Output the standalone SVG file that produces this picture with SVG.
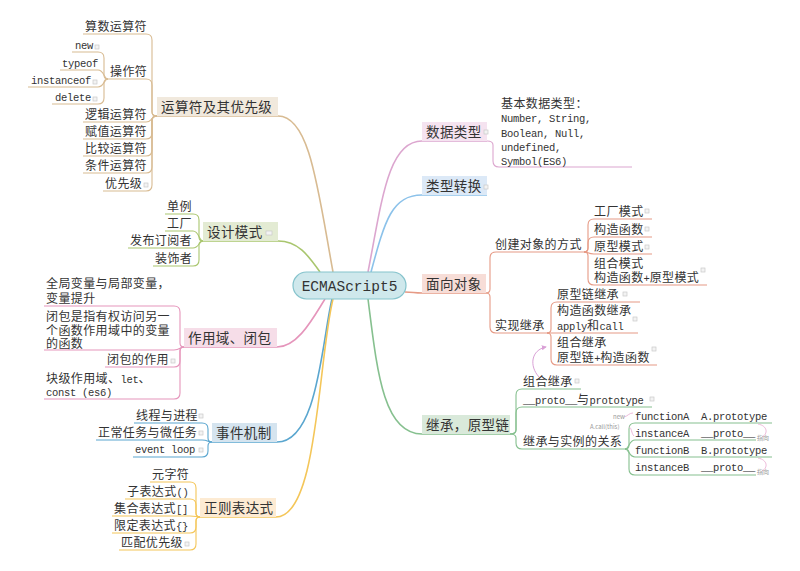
<svg xmlns="http://www.w3.org/2000/svg" width="800" height="571" viewBox="0 0 800 571">
<defs>
<style>
.t{font-family:"Noto Sans CJK SC","Liberation Mono",sans-serif;font-size:12px;letter-spacing:.4px;fill:#333}
.b{font-size:13.5px}
.m{font-family:"Liberation Mono","DejaVu Sans Mono",monospace;font-size:10.5px;letter-spacing:-.3px}
.tiny{font-family:"Noto Sans CJK SC","Liberation Serif",serif;font-size:6px;fill:#999}
.ln{fill:none;stroke-width:1.1}
.mn{fill:none;stroke-width:1.6}
.ic{fill:#f3f3f3;stroke:#c9c9c9;stroke-width:.7}
.c1{stroke:#d8bb92}.c2{stroke:#a9c66e}.c3{stroke:#e595bb}.c4{stroke:#5aa6cf}.c5{stroke:#f4c659}
.c6{stroke:#dca6cf}.c7{stroke:#8cc2ea}.c8{stroke:#e69a85}.c9{stroke:#86c08f}
</style>
<marker id="ah" viewBox="0 0 6 6" refX="5" refY="3" markerWidth="5" markerHeight="5" orient="auto">
<path d="M0,0 L6,3 L0,6 z" fill="#d9a0d6"/>
</marker>
</defs>
<rect width="800" height="571" fill="#fff"/>

<g id="connectors">
<path class="mn c1" d="M333,272 C318,190 310,116 278,116 H157"/>
<path class="mn c2" d="M320,272 C308,255 298,241 278,241 H203"/>
<path class="mn c3" d="M325,299 C313,318 298,347 277,347 H184"/>
<path class="mn c4" d="M332,299 C322,340 318,442 277,442 H212"/>
<path class="mn c5" d="M333,299 C318,360 318,517 276,517 H200"/>
<path class="mn c6" d="M368,272 C382,200 388,141 422,141 H487"/>
<path class="mn c7" d="M371,272 C385,220 392,195 422,195 H487"/>
<path class="mn c8" d="M405,292 C413,292 414,293 422,293 H486"/>
<path class="mn c9" d="M368,299 C377,370 383,434 422,434 H510"/>
<g class="ln c1">
<path d="M157,116 Q152,116 152,112 V40 Q152,34 146,34 H83"/>
<path d="M157,116 Q152,116 152,112 V85 Q152,79 146,79 H108"/>
<path d="M157,116 C152,116 152,122 146,122 H83"/>
<path d="M157,116 Q152,116 152,120 V133 Q152,139 146,139 H83"/>
<path d="M157,116 Q152,116 152,120 V150 Q152,156 146,156 H83"/>
<path d="M157,116 Q152,116 152,120 V167 Q152,173 146,173 H83"/>
<path d="M157,116 Q152,116 152,120 V185 Q152,191 146,191 H103"/>
<path d="M108,79 Q104,79 104,75 V58 Q104,52 98,52 H72"/>
<path d="M108,79 C104,79 104,70 98,70 H60"/>
<path d="M108,79 C104,79 104,87 98,87 H28"/>
<path d="M108,79 Q104,79 104,83 V98 Q104,104 98,104 H52"/>
</g>
<g class="ln c2">
<path d="M203,241 Q199,241 199,237 V220 Q199,214 193,214 H165"/>
<path d="M203,241 C199,241 199,231 193,231 H165"/>
<path d="M203,241 C199,241 199,248 193,248 H128"/>
<path d="M203,241 Q199,241 199,245 V260 Q199,266 193,266 H153"/>
</g>
<g class="ln c3">
<path d="M184,347 Q180,347 180,343 V312 Q180,306 174,306 H44"/>
<path d="M184,347 C180,347 180,350 174,350 H44"/>
<path d="M184,347 Q180,347 180,351 V361 Q180,367 174,367 H105"/>
<path d="M184,347 Q180,347 180,351 V393 Q180,399 174,399 H44"/>
</g>
<g class="ln c4">
<path d="M212,442 Q208,442 208,438 V429 Q208,423 202,423 H134"/>
<path d="M212,442 C208,442 208,440 202,440 H96"/>
<path d="M212,442 Q208,442 208,446 V451 Q208,457 202,457 H133"/>
</g>
<g class="ln c5">
<path d="M200,517 Q196,517 196,513 V488 Q196,482 190,482 H150"/>
<path d="M200,517 Q196,517 196,513 V505 Q196,499 190,499 H125"/>
<path d="M200,517 C196,517 196,516 190,516 H112"/>
<path d="M200,517 Q196,517 196,521 V527 Q196,533 190,533 H112"/>
<path d="M200,517 Q196,517 196,521 V544 Q196,550 190,550 H119"/>
</g>
<path class="ln c6" d="M487,141 Q493,141 493,145 V161 Q493,167 499,167 H632"/>
<g class="ln c8">
<path d="M486,293 Q490,293 490,289 V258 Q490,252 496,252 H586"/>
<path d="M486,293 Q490,293 490,297 V327 Q490,333 496,333 H549"/>
<path d="M584,252 Q588,252 588,248 V225 Q588,219 594,219 H652"/>
<path d="M584,252 Q588,252 588,248 V243 Q588,237 594,237 H652"/>
<path d="M584,252 C588,252 588,254 594,254 H652"/>
<path d="M584,252 Q588,252 588,256 V279 Q588,285 594,285 H707"/>
<path d="M547,333 Q551,333 551,329 V308 Q551,302 557,302 H640"/>
<path d="M547,333 H638"/>
<path d="M547,333 Q551,333 551,337 V359 Q551,365 557,365 H657"/>
</g>
<g class="ln c9">
<path d="M510,434 Q516,434 516,430 V395 Q516,389 522,389 H581"/>
<path d="M510,434 Q516,434 516,430 V413 Q516,407 522,407 H652"/>
<path d="M510,434 Q516,434 516,438 V443 Q516,449 522,449 H627"/>
<path d="M625,449 Q629,449 629,445 V429 Q629,423 635,423 H772"/>
<path d="M625,449 C629,449 629,440 635,440 H756"/>
<path d="M625,449 C629,449 629,457 635,457 H772"/>
<path d="M625,449 Q629,449 629,453 V469 Q629,475 635,475 H756"/>
</g>
<path d="M539,377 C529,366 531,350 546,347" fill="none" stroke="#d9a0d6" stroke-width="1" marker-end="url(#ah)"/>
<g fill="none" stroke="#e8a8d0" stroke-width=".8">
<path d="M624,417 C628,416 629,413 633,413"/>
<path d="M629,427 C632,428 631,433 634,436"/>
<path d="M758,424 C768,426 768,434 762,437"/>
<path d="M758,458 C768,460 768,468 762,471"/>
</g>
</g>

<g id="center">
<rect x="293" y="272" width="113" height="27" rx="13.5" fill="#cfe8ec" stroke="#85c3cc" stroke-width="1.2"/>
<text x="349.5" y="291" text-anchor="middle" font-family="Liberation Mono, DejaVu Sans Mono, monospace" font-size="14.5" fill="#333">ECMAScript5</text>
</g>

<g id="n-operators">
<rect x="157" y="97" width="121" height="19" fill="#f1e9dd"/>
<text class="t b" x="161" y="111.5">运算符及其优先级</text>
<text class="t" x="85" y="31">算数运算符</text>
<text class="t" x="110" y="76">操作符</text>
<text class="t m" x="75" y="49">new</text>
<text class="t m" x="62" y="67">typeof</text>
<text class="t m" x="31" y="84">instanceof</text>
<text class="t m" x="55" y="101">delete</text>
<text class="t" x="85" y="119">逻辑运算符</text>
<text class="t" x="85" y="136">赋值运算符</text>
<text class="t" x="85" y="153">比较运算符</text>
<text class="t" x="85" y="170">条件运算符</text>
<text class="t" x="105" y="188">优先级</text>
</g>

<g id="n-design">
<rect x="203" y="222" width="75" height="19" fill="#e3ebd3"/>
<text class="t b" x="207" y="236.5">设计模式</text>
<text class="t" x="167" y="211">单例</text>
<text class="t" x="167" y="228">工厂</text>
<text class="t" x="130" y="245">发布订阅者</text>
<text class="t" x="155" y="263">装饰者</text>
</g>

<g id="n-scope">
<rect x="184" y="328" width="93" height="19" fill="#f6dde8"/>
<text class="t b" x="188" y="342.5">作用域、闭包</text>
<text class="t" x="46" y="288">全局变量与局部变量，<tspan x="46" y="303">变量提升</tspan></text>
<text class="t" x="46" y="321">闭包是指有权访问另一<tspan x="46" y="335">个函数作用域中的变量</tspan><tspan x="46" y="348">的函数</tspan></text>
<text class="t" x="107" y="364">闭包的作用</text>
<text class="t" x="46" y="383">块级作用域、<tspan class="m">let</tspan>、<tspan class="m" x="46" y="396">const (es6)</tspan></text>
</g>

<g id="n-event">
<rect x="212" y="423" width="65" height="19" fill="#d5e4ef"/>
<text class="t b" x="216" y="437.5">事件机制</text>
<text class="t" x="136" y="420">线程与进程</text>
<text class="t" x="98" y="437">正常任务与微任务</text>
<text class="t m" x="135" y="453">event loop</text>
</g>

<g id="n-regex">
<rect x="200" y="498" width="76" height="19" fill="#fdebd3"/>
<text class="t b" x="204" y="512.5">正则表达式</text>
<text class="t" x="152" y="479">元字符</text>
<text class="t" x="127" y="496">子表达式<tspan class="m">()</tspan></text>
<text class="t" x="114" y="513">集合表达式<tspan class="m">[]</tspan></text>
<text class="t" x="114" y="530">限定表达式<tspan class="m">{}</tspan></text>
<text class="t" x="121" y="547">匹配优先级</text>
</g>

<g id="n-datatype">
<rect x="422" y="122" width="65" height="19" fill="#f5e3f0"/>
<text class="t b" x="426" y="136.5">数据类型</text>
<text class="t" x="501" y="108">基本数据类型：<tspan class="m" x="501" y="122">Number, String,</tspan><tspan class="m" x="501" y="136.5">Boolean, Null,</tspan><tspan class="m" x="501" y="151">undefined,</tspan><tspan class="m" x="501" y="165">Symbol(ES6)</tspan></text>
</g>

<g id="n-convert">
<rect x="422" y="176" width="65" height="19" fill="#dce9f7"/>
<text class="t b" x="426" y="190.5">类型转换</text>
</g>

<g id="n-oop">
<rect x="422" y="274" width="64" height="19" fill="#f7ddd7"/>
<text class="t b" x="426" y="288.5">面向对象</text>
<text class="t" x="495" y="249">创建对象的方式</text>
<text class="t" x="594" y="216">工厂模式</text>
<text class="t" x="594" y="234">构造函数</text>
<text class="t" x="594" y="251">原型模式</text>
<text class="t" x="594" y="268">组合模式<tspan x="594" y="282">构造函数</tspan><tspan class="m">+</tspan>原型模式</text>
<text class="t" x="495" y="330">实现继承</text>
<text class="t" x="557" y="299">原型链继承</text>
<text class="t" x="557" y="315">构造函数继承<tspan class="m" x="557" y="330">apply</tspan>和<tspan class="m">call</tspan></text>
<text class="t" x="557" y="347">组合继承<tspan x="557" y="362">原型链</tspan><tspan class="m">+</tspan>构造函数</text>
</g>

<g id="n-inherit">
<rect x="422" y="415" width="88" height="19" fill="#d9e9da"/>
<text class="t b" x="426" y="429.5">继承，原型链</text>
<text class="t" x="523" y="386">组合继承</text>
<text class="t" x="523" y="404"><tspan class="m">__proto__</tspan>与<tspan class="m">prototype</tspan></text>
<text class="t" x="523" y="446">继承与实例的关系</text>
<text class="t m" x="635" y="420">functionA<tspan x="701">A.prototype</tspan></text>
<text class="t m" x="635" y="437">instanceA<tspan x="701">__proto__</tspan></text>
<text class="t m" x="635" y="454">functionB<tspan x="701">B.prototype</tspan></text>
<text class="t m" x="635" y="471">instanceB<tspan x="701">__proto__</tspan></text>
<text class="tiny" x="613" y="419">new</text>
<text class="tiny" x="590" y="429">A.call(this)</text>
<text class="tiny" x="757" y="440">指向</text>
<text class="tiny" x="757" y="474">指向</text>
</g>

<g id="icons">
<rect class="ic" x="95" y="45" width="4" height="4"/>
<rect class="ic" x="93" y="80" width="4" height="4"/>
<rect class="ic" x="93" y="97" width="4" height="4"/>
<rect class="ic" x="144" y="183" width="4" height="4"/>
<rect class="ic" x="266" y="231" width="6" height="4"/>
<rect class="ic" x="171" y="359" width="4" height="4"/>
<rect class="ic" x="199" y="414" width="4" height="4"/>
<rect class="ic" x="199" y="431" width="4" height="4"/>
<rect class="ic" x="199" y="448" width="4" height="4"/>
<rect class="ic" x="185" y="542" width="4" height="4"/>
<rect class="ic" x="484" y="130" width="4" height="4"/>
<rect class="ic" x="484" y="185" width="4" height="4"/>
<rect class="ic" x="645" y="209" width="4" height="4"/>
<rect class="ic" x="645" y="227" width="4" height="4"/>
<rect class="ic" x="645" y="245" width="4" height="4"/>
<rect class="ic" x="701" y="268" width="4" height="4"/>
<rect class="ic" x="623" y="292" width="4" height="4"/>
<rect class="ic" x="633" y="317" width="4" height="4"/>
<rect class="ic" x="652" y="347" width="4" height="4"/>
<rect class="ic" x="575" y="379" width="4" height="4"/>
<rect class="ic" x="650" y="397" width="4" height="4"/>
</g>
</svg>
